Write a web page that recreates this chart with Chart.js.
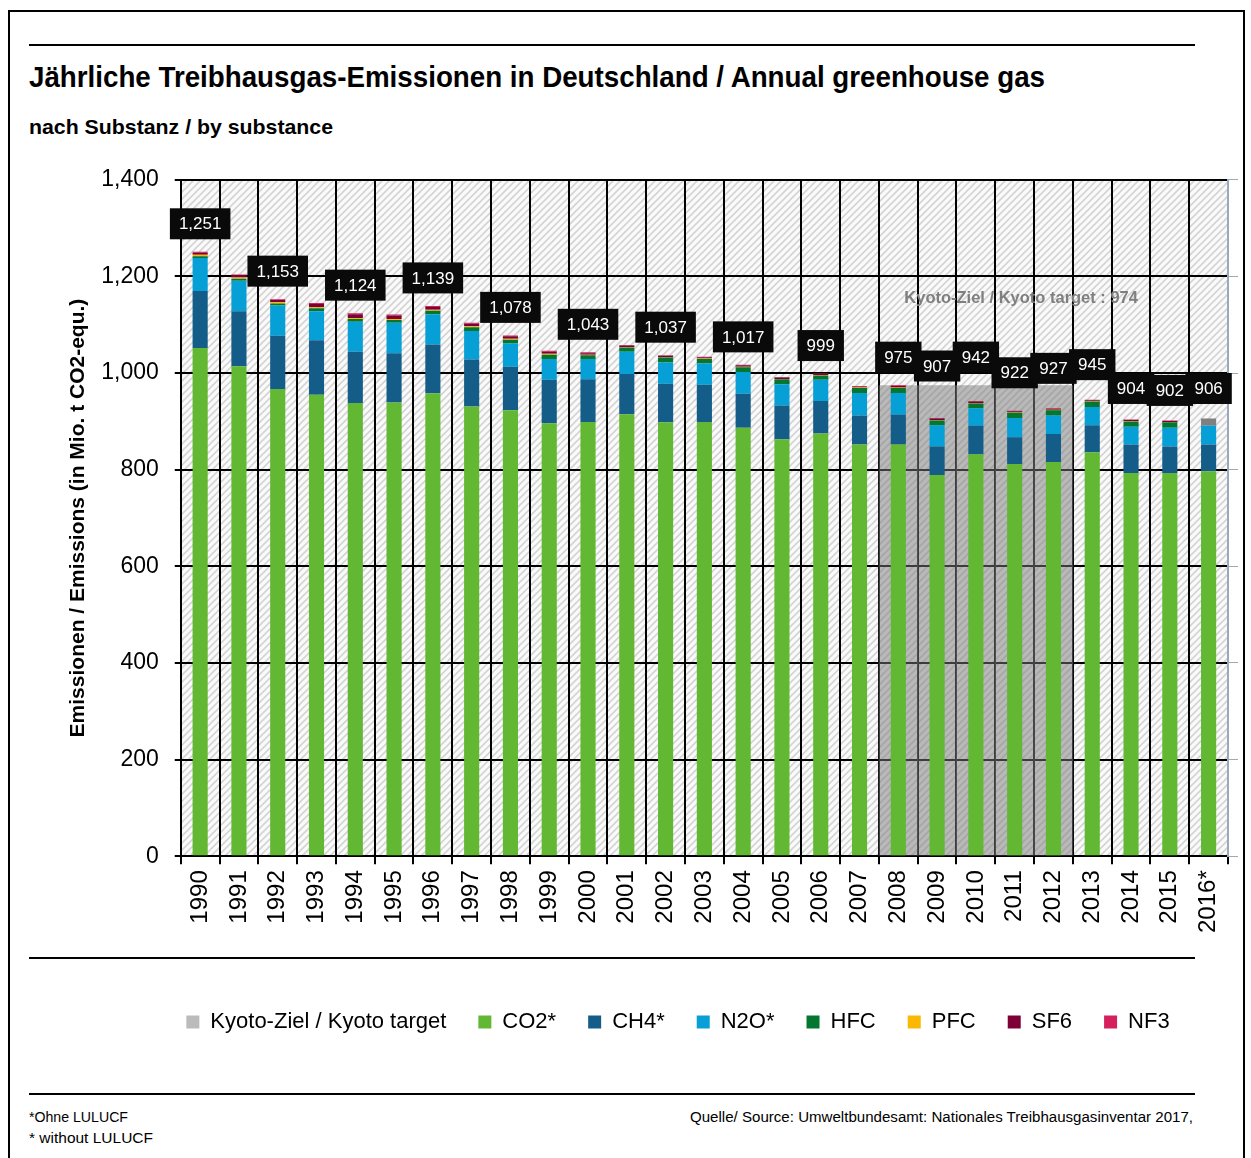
<!DOCTYPE html>
<html>
<head>
<meta charset="utf-8">
<title>Treibhausgas-Emissionen</title>
<script src="https://cdn.jsdelivr.net/npm/chart.js@4/dist/chart.umd.min.js"></script>
<style>
  html, body { margin: 0; padding: 0; background: #fff; }
  body { width: 1251px; height: 1158px; position: relative; overflow: hidden;
         font-family: "Liberation Sans", Arial, sans-serif; color: #000; }
  .frame { position: absolute; left: 8px; top: 10px; width: 1233px; height: 1170px;
           border: 2px solid #000; border-bottom: none; }
  .rule { position: absolute; left: 29px; width: 1166px; height: 2px; background: #000; }
  .txt { position: absolute; white-space: nowrap; transform-origin: 0 0; }
  #chartBox { position: absolute; left: 0; top: 150px; width: 1251px; height: 910px; }
</style>
</head>
<body>
<div class="frame"></div>
<div class="rule" style="top:44px"></div>
<div class="txt" data-w="1016" style="left:29px; top:62px; font-size:30px; line-height:30px; font-weight:bold;">Jährliche Treibhausgas-Emissionen in Deutschland / Annual greenhouse gas</div>
<div class="txt" data-w="304" style="left:29px; top:116px; font-size:21px; line-height:21px; font-weight:bold;">nach Substanz / by substance</div>

<div id="chartBox"><canvas id="chart"></canvas></div>

<div class="rule" style="top:957px"></div>
<div class="rule" style="top:1093px"></div>
<div class="txt" data-w="99" style="left:29px; top:1110px; font-size:14px; line-height:14px;">*Ohne LULUCF</div>
<div class="txt" data-w="124" style="left:29px; top:1131px; font-size:14px; line-height:14px;">* without LULUCF</div>
<div class="txt" data-w="503" style="left:690px; top:1110px; font-size:14px; line-height:14px;">Quelle/ Source:  Umweltbundesamt: Nationales Treibhausgasinventar 2017,</div>

<script>
// Mio. t CO2-Äquivalente
const years = ['1990','1991','1992','1993','1994','1995','1996','1997','1998','1999',
  '2000','2001','2002','2003','2004','2005','2006','2007','2008','2009',
  '2010','2011','2012','2013','2014','2015','2016*'];
const co2 = [1052,1014,967,955,938,939,958,931,923,896,899,915,898,899,887,863,875,852,852,789,832,812,816,836,793,793,797];
const ch4 = [118,114,110,113,106,102,101,97,90,90,88,83,80,77,70,70,67,60,62,59,59,55,58,56,59,55,55];
const n2o = [68,63,63,60,62,63,63,59,48,43,42,46,44,44,45,44,44,47,45,44,36,40,38,38,37,39,39];
const hfc = [4,4,4,6,6,6,7,8,8,9,8,9,10,9,10,10,9,10,10,10,10,11,11,11,11,11,null];
const pfc = [3,3,3,2,2,2,2,2,2,2,1,1,1,1,1,1,1,1,1,1,1,1,1,1,1,1,null];
const sf6 = [4,4,4,7,8,7,6,5,5,4,3,3,3,3,3,3,2,2,3,3,3,2,2,2,2,2,null];
const nf3 = [2,2,2,2,2,2,2,2,2,2,2,1,1,1,1,1,1,1,2,1,1,1,1,1,1,1,null];
const fgas2016 = [null,null,null,null,null,null,null,null,null,null,null,null,null,null,
  null,null,null,null,null,null,null,null,null,null,null,null,15];
const kyotoTarget = 974;
const kyotoYears = ['2008','2009','2010','2011','2012'];
const labelledYears = ['1990','1992','1994','1996','1998','2000','2002','2004','2006',
  '2008','2009','2010','2011','2012','2013','2014','2015','2016*'];

const gasSeries = [co2, ch4, n2o, hfc, pfc, sf6, nf3, fgas2016];

// scale html texts to the widths of the original
document.querySelectorAll('.txt[data-w]').forEach(el => {
  const w = el.getBoundingClientRect().width;
  el.style.transform = 'scaleX(' + (el.dataset.w / w) + ')';
});

Chart.defaults.font.family = '"Liberation Sans", Arial, sans-serif';
Chart.defaults.color = '#000';

const ctx = document.getElementById('chart').getContext('2d');

function makeHatch() {
  const c = document.createElement('canvas');
  c.width = 7; c.height = 7;
  const g = c.getContext('2d');
  g.fillStyle = '#fafafa';
  g.fillRect(0, 0, 7, 7);
  g.strokeStyle = '#d4d4d4';
  g.lineWidth = 1.6;
  g.beginPath();
  g.moveTo(-1, 8); g.lineTo(8, -1);
  g.moveTo(-4, 4); g.lineTo(4, -4);
  g.moveTo(3, 11); g.lineTo(11, 3);
  g.stroke();
  return ctx.createPattern(c, 'repeat');
}

const hatchBg = {
  id: 'hatchBg',
  beforeDraw(chart) {
    const {ctx, chartArea: a} = chart;
    ctx.save();
    ctx.fillStyle = makeHatch();
    ctx.fillRect(a.left, a.top, a.right - a.left, a.bottom - a.top);
    ctx.restore();
  }
};

const totalLabels = {
  id: 'totalLabels',
  afterDatasetsDraw(chart, args, opts) {
    const {ctx, scales: {x, y}} = chart;
    ctx.save();
    // Kyoto note
    const k0 = x.getPixelForValue(years.indexOf(kyotoYears[0]));
    ctx.font = 'bold 17px "Liberation Sans", Arial, sans-serif';
    ctx.fillStyle = '#7f7f7f';
    ctx.textAlign = 'left';
    ctx.textBaseline = 'middle';
    ctx.translate(k0 + 6, y.getPixelForValue(kyotoTarget) - 87);
    ctx.scale(0.97, 1);
    ctx.fillText('Kyoto-Ziel / Kyoto target : ' + kyotoTarget, 0, 0);
    ctx.setTransform(1, 0, 0, 1, 0, 0);

    ctx.font = '17px "Liberation Sans", Arial, sans-serif';
    ctx.textAlign = 'center';
    years.forEach((yr, i) => {
      if (!labelledYears.includes(yr)) return;
      const total = gasSeries.reduce((s, arr) => s + (arr[i] || 0), 0);
      const text = total.toLocaleString('en-US');
      const cx = x.getPixelForValue(i);
      const cy = y.getPixelForValue(total) - opts.gap - (opts.lift[yr] || 0);
      const w = ctx.measureText(text).width + 2 * opts.padX;
      ctx.fillStyle = '#0a0a0a';
      ctx.fillRect(cx - w / 2, cy - opts.h / 2, w, opts.h);
      ctx.fillStyle = '#fff';
      ctx.fillText(text, cx, cy + 1);
    });
    ctx.restore();
  }
};

const placeLegend = {
  id: 'placeLegend',
  afterLayout(chart, args, opts) {
    const l = chart.legend;
    if (!l) return;
    const shift = opts.centerX - (l.left + l.right) / 2;
    l.left += shift; l.right += shift;
    l.top = opts.top; l.bottom = opts.top + l.height;
  }
};

const bar = (label, data, color) => ({
  label, data, backgroundColor: color, stack: 'gas', order: 0,
  barPercentage: 0.39, categoryPercentage: 1, borderWidth: 0
});

new Chart(ctx, {
  type: 'bar',
  data: {
    labels: years,
    datasets: [
      {
        label: 'Kyoto-Ziel / Kyoto target',
        data: years.map(yr => kyotoYears.includes(yr) ? kyotoTarget : null),
        backgroundColor: 'rgba(120,120,120,0.5)',
        stack: 'kyoto', grouped: false, order: 1,
        barPercentage: 1, categoryPercentage: 1, borderWidth: 0
      },
      bar('CO2*', co2, '#62b733'),
      bar('CH4*', ch4, '#135d88'),
      bar('N2O*', n2o, '#069fd6'),
      bar('HFC', hfc, '#03772f'),
      bar('PFC', pfc, '#fbb800'),
      bar('SF6', sf6, '#7e0037'),
      bar('NF3', nf3, '#d4215d'),
      bar('F-Gase', fgas2016, '#808080')
    ]
  },
  options: {
    responsive: true,
    maintainAspectRatio: false,
    animation: false,
    layout: { padding: { left: 66, right: 13, top: 27, bottom: 57 } },
    scales: {
      x: {
        offset: true,
        grid: {
          offset: true,
          color: c => c.type === 'tick' ? '#000' : '#9aaabb',
          tickColor: '#000',
          lineWidth: 2,
          tickLength: 8
        },
        border: { color: '#000', width: 2 },
        ticks: { font: { size: 24 }, color: '#000', minRotation: 90, maxRotation: 90, autoSkip: false, padding: 6 }
      },
      y: {
        stacked: true,
        min: 0, max: 1400,
        ticks: { stepSize: 200, font: { size: 23 }, color: '#000', padding: 16 },
        grid: { color: '#000', lineWidth: 2, tickLength: 6 },
        border: { color: '#000', width: 2 },
        title: {
          display: true,
          text: 'Emissionen / Emissions (in Mio. t CO2-equ.)',
          font: { size: 21, weight: 'bold' },
          color: '#000',
          padding: { top: 0, bottom: -6 }
        }
      },
      y2: {
        position: 'right',
        min: 0, max: 1400,
        ticks: { display: false, stepSize: 200 },
        grid: { drawOnChartArea: false, color: '#9aaabb', tickLength: 10 },
        border: { color: '#9aaabb', width: 2 }
      }
    },
    plugins: {
      tooltip: { enabled: false },
      legend: {
        position: 'bottom',
        labels: {
          boxWidth: 13, boxHeight: 13, padding: 32,
          font: { size: 22 }, color: '#000',
          filter: item => item.text !== 'F-Gase',
          sort: (a, b) => a.datasetIndex - b.datasetIndex
        }
      },
      placeLegend: { centerX: 678, top: 829 },
      totalLabels: {
        gap: 28, padX: 9, h: 31,
        lift: { '2009': 24, '2010': 16, '2011': 10, '2012': 12, '2013': 7, '2014': 3, '2015': 2, '2016*': 2 }
      }
    }
  },
  plugins: [hatchBg, totalLabels, placeLegend]
});
</script>
</body>
</html>
